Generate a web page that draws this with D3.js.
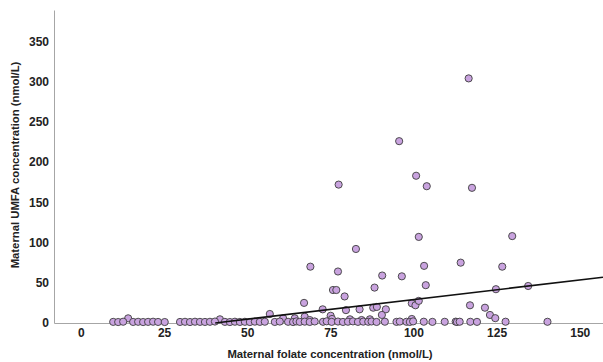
<!DOCTYPE html>
<html>
<head>
<meta charset="utf-8">
<script src="https://cdn.jsdelivr.net/npm/d3@7"></script>
<style>
  html, body { margin: 0; padding: 0; background: #fff; }
  svg { display: block; font-family: "Liberation Sans", Arial, sans-serif; }
</style>
</head>
<body>
<svg id="chart" width="603" height="362"></svg>
<script>
// Maternal folate (x) vs. maternal UMFA (y), nmol/L
const folate = [
  116.6, 95.7, 100.8, 104.0, 117.6, 77.5, 101.6, 129.7, 82.7, 69.0,
  77.3, 90.6, 96.5, 103.2, 114.2, 126.7, 75.8, 76.8, 79.3, 88.3,
  103.7, 124.8, 134.5, 67.1, 72.7, 79.7, 83.8, 87.9, 89.0, 91.7,
  90.5, 99.5, 100.6, 101.6, 117.0, 121.5, 123.0, 124.6, 75.1, 75.5,
  99.5, 56.8, 41.8, 60.8, 64.3, 67.3, 68.8, 80.9, 84.4, 86.9,
  14.2,
  9.7, 11.2, 12.7, 15.7, 17.2, 18.7, 20.2, 21.7, 23.2, 25.2,
  29.8, 31.3, 32.8, 34.3, 35.8, 37.3, 38.8, 40.3, 43.3, 44.8,
  46.3, 47.8, 49.3, 50.8, 52.3, 53.8, 55.3, 58.3, 59.8, 62.3,
  63.8, 64.8, 65.8, 67.3, 68.8, 70.3, 72.8, 73.9, 75.4, 77.3,
  78.8, 80.3, 81.8, 83.3, 84.9, 86.4, 87.4, 88.9, 91.4, 94.9,
  95.9, 97.9, 98.9, 99.9, 103.1, 105.7, 109.4, 112.7, 113.1, 113.9,
  117.1, 119.1, 127.7, 140.3
];
const umfa = [
  304, 226, 183, 170, 168, 172, 107, 108, 92, 70,
  64, 59, 58, 71, 75, 70, 41, 41, 33, 44,
  47, 42, 46, 25, 17, 16, 17, 19, 20, 17,
  10, 24.5, 22, 27.5, 22, 19, 10, 6, 9, 5,
  5, 11.2, 4.6, 5.8, 5.8, 7.8, 3.7, 4.6, 3.7, 4.6,
  5.8,
  1.4, 1.2, 1.6, 1.3, 1.5, 1.2, 1.4, 1.6, 1.3, 1.2,
  1.3, 1.5, 1.2, 1.6, 1.4, 1.3, 1.5, 1.8, 1.4, 1.2,
  1.6, 1.3, 1.5, 1.2, 1.7, 1.4, 1.6, 1.3, 1.8, 1.5,
  1.2, 2.0, 1.4, 1.7, 1.3, 1.9, 1.5, 2.1, 1.4, 1.8,
  1.3, 1.6, 2.0, 1.4, 1.7, 1.5, 1.9, 1.3, 1.6, 1.4,
  1.8, 1.5, 1.3, 2.0, 1.6, 1.4, 1.5, 1.7, 1.3, 1.6,
  1.5, 1.4, 1.6, 1.5
];
const xTicks = [0, 25, 50, 75, 100, 125, 150];
const yTicks = [0, 50, 100, 150, 200, 250, 300, 350];
const xDomain = [-8.1, 157];
const yDomain = [0, 389];
// Linear fit: UMFA = intercept + slope * folate
const fitIntercept = -19.7;
const fitSlope = 0.488;

const svg = d3.select("#chart");
const plot = { left: 54, right: 603, top: 10, bottom: 323 };

const x = d3.scaleLinear().domain(xDomain).range([plot.left, plot.right]);
const y = d3.scaleLinear().domain(yDomain).range([plot.bottom, plot.top]);

const axisColor = "#a6a6a6";

// Y axis
const gy = svg.append("g")
  .attr("transform", `translate(${plot.left},0)`)
  .call(d3.axisLeft(y).tickValues(yTicks).tickSize(0).tickPadding(5));
gy.select(".domain").attr("stroke", axisColor);
gy.selectAll("text").attr("font-size", 12).attr("font-weight", "bold")
  .attr("fill", "#222").attr("font-family", "Liberation Sans, Arial, sans-serif");

// X axis
const gx = svg.append("g")
  .attr("transform", `translate(0,${plot.bottom})`)
  .call(d3.axisBottom(x).tickValues(xTicks).tickSize(0).tickPadding(5));
gx.select(".domain").attr("stroke", axisColor);
gx.selectAll("text").attr("font-size", 12).attr("font-weight", "bold")
  .attr("fill", "#222").attr("font-family", "Liberation Sans, Arial, sans-serif");

// Axis titles
svg.append("text")
  .attr("x", 330).attr("y", 358)
  .attr("text-anchor", "middle")
  .attr("font-size", 11.3).attr("font-weight", "bold").attr("fill", "#222")
  .text("Maternal folate concentration (nmol/L)");

svg.append("text")
  .attr("transform", `translate(19,165) rotate(-90)`)
  .attr("text-anchor", "middle")
  .attr("font-size", 11.3).attr("font-weight", "bold").attr("fill", "#222")
  .text("Maternal UMFA concentration (nmol/L)");

// Points
const pts = folate.map((f, i) => ({ f, u: umfa[i] }));
svg.append("g").selectAll("circle")
  .data(pts)
  .join("circle")
  .attr("cx", d => x(d.f))
  .attr("cy", d => y(d.u))
  .attr("r", 3.6)
  .attr("fill", "#c9a3df")
  .attr("stroke", "#3d3d3d")
  .attr("stroke-width", 0.9);

// Fit line, from where it crosses zero to the right edge of the plot
const xStart = -fitIntercept / fitSlope;
const fitLine = [xStart, xDomain[1]].map(v => [v, fitIntercept + fitSlope * v]);
svg.append("path")
  .datum(fitLine)
  .attr("fill", "none")
  .attr("stroke", "#111")
  .attr("stroke-width", 1.6)
  .attr("d", d3.line().x(d => x(d[0])).y(d => y(d[1])));
</script>
</body>
</html>
